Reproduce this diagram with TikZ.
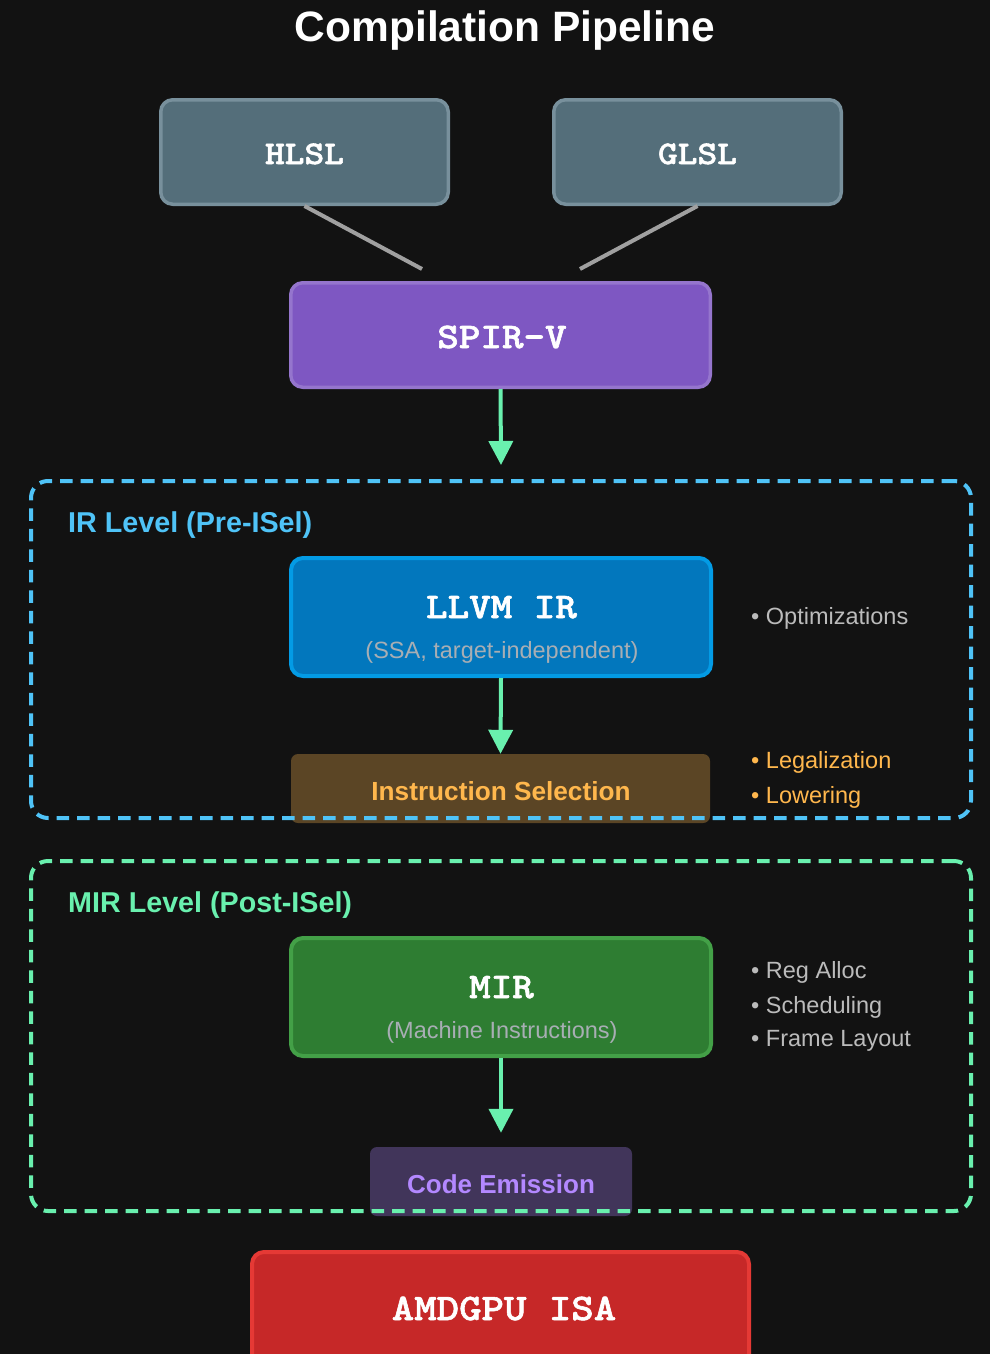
\documentclass[tikz,border=0pt]{standalone}
\usepackage{fontspec}
\setmainfont{Liberation Sans}
\newfontfamily\codefont{lmmonolt10-bold}[Extension=.otf, FakeStretch=1.14, FakeBold=1.6]
\usetikzlibrary{arrows.meta}

\definecolor{bg}{HTML}{121212}
\definecolor{srcfill}{HTML}{546E7A}
\definecolor{srcline}{HTML}{78909C}
\definecolor{spvfill}{HTML}{7E57C2}
\definecolor{spvline}{HTML}{9575CD}
\definecolor{irfill}{HTML}{0277BD}
\definecolor{irline}{HTML}{039BE5}
\definecolor{iselfill}{HTML}{5B4525}
\definecolor{iseltext}{HTML}{FFB74D}
\definecolor{mirfill}{HTML}{2E7D32}
\definecolor{mirline}{HTML}{43A047}
\definecolor{emitfill}{HTML}{41355A}
\definecolor{emittext}{HTML}{B388FF}
\definecolor{isafill}{HTML}{C62828}
\definecolor{isaline}{HTML}{E53935}
\definecolor{irframe}{HTML}{4FC3F7}
\definecolor{mirframe}{HTML}{69F0AE}
\definecolor{flowc}{HTML}{69F0AE}
\definecolor{feedc}{HTML}{A0A0A0}
\definecolor{subc}{HTML}{A8AEB4}
\definecolor{notec}{HTML}{BBBBBB}

\newcommand\fmono[1]{\codefont\fontsize{#1}{#1}\selectfont}
\newcommand\fsans[1]{\fontsize{#1}{#1}\selectfont}

\begin{document}
\begin{tikzpicture}[x=1pt,y=-1pt,
  box/.style={rounded corners=12pt, inner sep=0pt},
  srcbox/.style={box, fill=srcfill, draw=srcline, line width=3.5pt,
    minimum width=287.5pt, minimum height=104.5pt},
  spvbox/.style={box, fill=spvfill, draw=spvline, line width=3.5pt,
    minimum width=419.5pt, minimum height=104.5pt},
  irbox/.style={box, fill=irfill, draw=irline, line width=4pt,
    minimum width=420pt, minimum height=118pt},
  mirbox/.style={box, fill=mirfill, draw=mirline, line width=4pt,
    minimum width=420pt, minimum height=118pt},
  isabox/.style={box, fill=isafill, draw=isaline, line width=4pt,
    minimum width=497pt, minimum height=120pt},
  stagebox/.style={rounded corners=7pt, inner sep=0pt, minimum height=69pt},
  frame/.style={rounded corners=17pt, inner sep=0pt, line width=4pt,
    dash pattern=on 12.5pt off 8pt, minimum width=940pt},
  txt/.style={inner sep=0pt, anchor=base},
  code/.style={txt, text=white},
  sub/.style={txt, text=subc, font=\fsans{23.5}},
  note/.style={txt, anchor=base west, font=\fsans{23.5}},
  level/.style={txt, anchor=base west, font=\bfseries\fsans{28.7}},
  feed/.style={draw=feedc, line width=4pt},
  flow/.style={draw=flowc, line width=4pt, -{Triangle[length=24pt,width=24pt]}},
]
\clip (0,0) rectangle (990,1354);
\fill[bg] (0,0) rectangle (990,1354);

% title
\node[txt, text=white, font=\bfseries\fsans{42.5}] (title) at (505,42) {Compilation Pipeline};

% shader sources
\node[srcbox] (hlsl) at (304.5,152) {};
\node[srcbox] (glsl) at (697.5,152) {};
\node[code, font=\fmono{33}] (hlsltxt) at (304.5,164) {HLSL};
\node[code, font=\fmono{33}] (glsltxt) at (697.5,164) {GLSL};

% SPIR-V
\node[spvbox] (spirv) at (500.5,335) {};
\node[code, font=\fmono{36}] (spirvtxt) at (502,348) {SPIR-V};

\coordinate (hj) at (422,269);
\coordinate (gj) at (580,269);
\draw[feed] (hlsl.south) -- (hj);
\draw[feed] (glsl.south) -- (gj);

\coordinate (irin) at (501,465);
\draw[flow] (spirv.south) -- (irin);

% IR level
\node[irbox] (llvm) at (501,617) {};
\node[code, font=\fmono{36}] (llvmtxt) at (501.5,618) {LLVM IR};
\node[sub] (llvmsub) at (502,658) {(SSA, target-independent)};
\node[note, text=notec] (opt) at (751,624) {\textbullet\ Optimizations};

\node[stagebox, fill=iselfill, minimum width=419pt] (isel) at (500.5,788.5) {};
\node[txt, text=iseltext, font=\bfseries\fsans{26.2}] (iseltxt) at (501,800) {Instruction Selection};
\node[note, text=iseltext] (legal) at (751,768) {\textbullet\ Legalization};
\node[note, text=iseltext] (lower) at (751,803) {\textbullet\ Lowering};

\draw[flow] (llvm.south) -- (isel.north);

\node[frame, draw=irframe, minimum height=337pt] (irlevel) at (501,649.5) {};
\node[level, text=irframe] (irlabel) at (68,532) {IR Level (Pre-ISel)};

% MIR level
\node[mirbox] (mir) at (501,997) {};
\node[code, font=\fmono{36}] (mirtxt) at (501.5,998) {MIR};
\node[sub] (mirsub) at (502,1038) {(Machine Instructions)};
\node[note, text=notec] (ra) at (751,978) {\textbullet\ Reg Alloc};
\node[note, text=notec] (sched) at (751,1013) {\textbullet\ Scheduling};
\node[note, text=notec] (frame) at (751,1046) {\textbullet\ Frame Layout};

\node[stagebox, fill=emitfill, minimum width=262pt] (emit) at (501,1181.5) {};
\node[txt, text=emittext, font=\bfseries\fsans{26}] (emittxt) at (501,1193) {Code Emission};

\draw[flow, shorten >=14pt] (mir.south) -- (emit.north);

\node[frame, draw=mirframe, minimum height=350pt] (mirlevel) at (501,1036) {};
\node[level, text=mirframe] (mirlabel) at (68,912) {MIR Level (Post-ISel)};

% target
\node[isabox] (isa) at (500.5,1312) {};
\node[code, font=\fmono{37.5}] (isatxt) at (504,1320) {AMDGPU ISA};
\end{tikzpicture}
\end{document}
